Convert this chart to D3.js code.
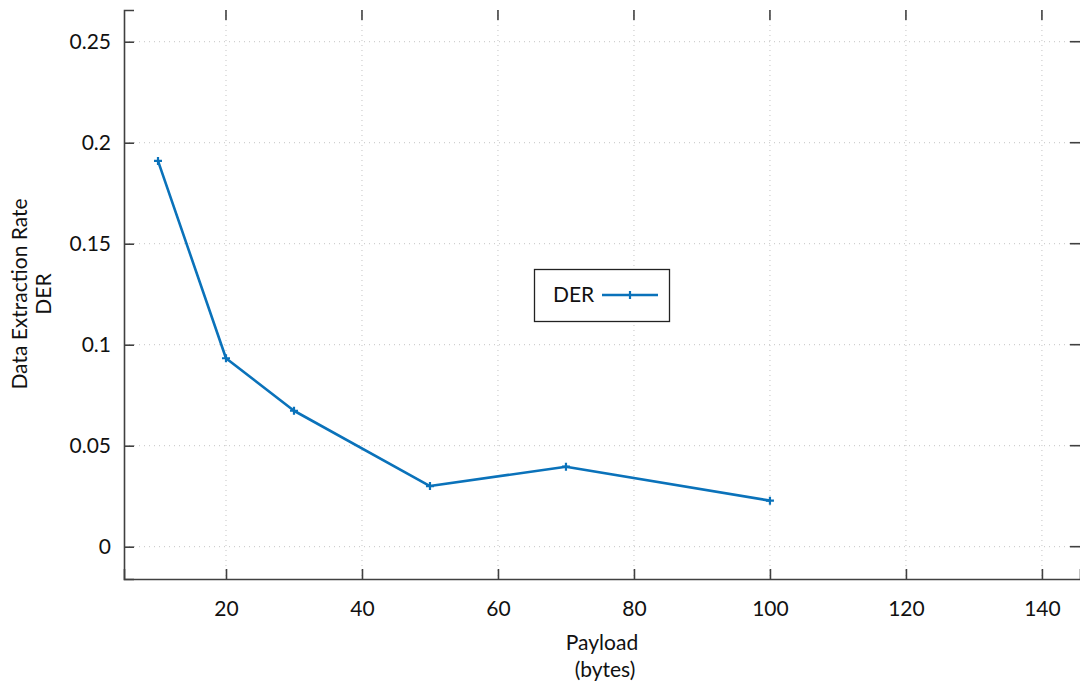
<!DOCTYPE html>
<html>
<head>
<meta charset="utf-8">
<script src="https://cdn.jsdelivr.net/npm/d3@7"></script>
<style>
  html, body { margin: 0; padding: 0; background: #fff; }
  svg { display: block; font-family: Lato, "Open Sans", sans-serif; }
</style>
</head>
<body>
<svg id="chart" width="1080" height="688"></svg>
<script>
// Payload sizes (bytes) and the measured data extraction rate
const payload = [10, 20, 30, 50, 70, 100];
const der = [0.191, 0.0933, 0.0673, 0.0300, 0.0396, 0.0228];
const xTicks = [20, 40, 60, 80, 100, 120, 140];
const yTicks = [0, 0.05, 0.1, 0.15, 0.2, 0.25];
const seriesName = "DER";

const plotLeft = 124, plotRight = 1080, plotTop = 10, plotBottom = 579;
const color = "#0a72ba";
const axisColor = "#404040";
const gridColor = "#c4c4c4";
const font = "Lato, 'Open Sans', sans-serif";
const fontSize = 21;

const svg = d3.select("#chart");

const x = d3.scaleLinear().domain([5, 145.6]).range([plotLeft, plotRight]);
const y = d3.scaleLinear().domain([-0.016, 0.2657]).range([plotBottom, plotTop]);

// dotted grid
const grid = svg.append("g");
grid.selectAll("line.gx").data(xTicks).join("line")
  .attr("x1", d => x(d)).attr("x2", d => x(d))
  .attr("y1", plotTop).attr("y2", plotBottom)
  .attr("stroke", gridColor).attr("stroke-width", 1).attr("stroke-dasharray", "1,4");
grid.selectAll("line.gy").data(yTicks).join("line")
  .attr("x1", plotLeft).attr("x2", plotRight)
  .attr("y1", d => y(d)).attr("y2", d => y(d))
  .attr("stroke", gridColor).attr("stroke-width", 1).attr("stroke-dasharray", "1,4");

// bottom axis, ticks pointing inward
const xAxis = svg.append("g").attr("transform", `translate(0,${plotBottom})`)
  .call(d3.axisBottom(x).tickValues(xTicks).tickSize(-10).tickPadding(22).tickFormat(d3.format("d")));
xAxis.select(".domain").attr("stroke", axisColor).attr("stroke-width", 1.6);
xAxis.selectAll(".tick line").attr("stroke", axisColor).attr("stroke-width", 1.6);
xAxis.selectAll(".tick text").attr("fill", "#111").attr("font-size", fontSize)
  .attr("font-family", font);

// left axis, ticks pointing inward
const yAxis = svg.append("g").attr("transform", `translate(${plotLeft},0)`)
  .call(d3.axisLeft(y).tickValues(yTicks).tickSize(-10).tickPadding(13).tickFormat(d => String(+d.toFixed(2))));
yAxis.select(".domain").attr("stroke", axisColor).attr("stroke-width", 1.6);
yAxis.selectAll(".tick line").attr("stroke", axisColor).attr("stroke-width", 1.6);
yAxis.selectAll(".tick text").attr("fill", "#111").attr("font-size", fontSize)
  .attr("font-family", font);

// mirrored ticks on top and right edges
const mirror = svg.append("g").attr("stroke", axisColor).attr("stroke-width", 1.6);
mirror.selectAll("line.tx").data(xTicks).join("line")
  .attr("x1", d => x(d)).attr("x2", d => x(d))
  .attr("y1", plotTop).attr("y2", plotTop + 10);
mirror.selectAll("line.ty").data(yTicks).join("line")
  .attr("x1", plotRight - 10).attr("x2", plotRight)
  .attr("y1", d => y(d)).attr("y2", d => y(d));

// data line
const pts = payload.map((p, i) => [p, der[i]]);
svg.append("path").datum(pts)
  .attr("fill", "none").attr("stroke", color).attr("stroke-width", 2.6)
  .attr("stroke-linejoin", "round")
  .attr("d", d3.line().x(d => x(d[0])).y(d => y(d[1])));

// plus markers
svg.selectAll("path.mk").data(pts).join("path")
  .attr("class", "mk")
  .attr("transform", d => `translate(${x(d[0])},${y(d[1])})`)
  .attr("d", "M-4,0H4M0,-4V4")
  .attr("stroke", color).attr("stroke-width", 2.2).attr("fill", "none");

// legend
const lg = svg.append("g");
lg.append("rect").attr("x", 534.5).attr("y", 269.5).attr("width", 135).attr("height", 52)
  .attr("fill", "#fff").attr("stroke", "#222").attr("stroke-width", 1.3);
lg.append("text").attr("x", 553).attr("y", 302).attr("font-size", fontSize).attr("fill", "#111")
  .text(seriesName);
lg.append("line").attr("x1", 602).attr("x2", 658).attr("y1", 295).attr("y2", 295)
  .attr("stroke", color).attr("stroke-width", 2.6);
lg.append("path").attr("transform", "translate(630,295)").attr("d", "M-4,0H4M0,-4V4")
  .attr("stroke", color).attr("stroke-width", 2.2);

// axis titles
const yt = svg.append("text").attr("transform", "translate(27,294) rotate(-90)")
  .attr("text-anchor", "middle").attr("font-size", fontSize).attr("fill", "#111");
yt.append("tspan").attr("x", 0).attr("dy", 0).text("Data Extraction Rate");
yt.append("tspan").attr("x", 0).attr("dy", 24).text("DER");

const xt = svg.append("text").attr("text-anchor", "middle").attr("font-size", fontSize).attr("fill", "#111");
xt.append("tspan").attr("x", 602).attr("y", 650).text("Payload");
xt.append("tspan").attr("x", 605).attr("y", 677).text("(bytes)");
</script>
</body>
</html>
